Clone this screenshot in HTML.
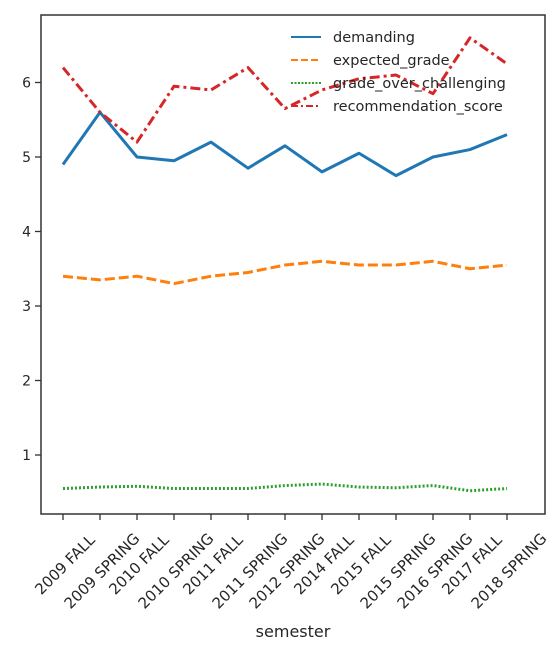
<!DOCTYPE html>
<html><head><meta charset="utf-8"><style>
body{margin:0;background:#fff;font-family:"Liberation Sans","DejaVu Sans",sans-serif;}
text{font-family:"DejaVu Sans","Liberation Sans",sans-serif;fill:#262626;}
</style></head><body>
<svg id="chart" width="558" height="650">
<g id="plot"></g>
</svg>
<script>
const categories=["2009 FALL","2009 SPRING","2010 FALL","2010 SPRING","2011 FALL","2011 SPRING","2012 SPRING","2014 FALL","2015 FALL","2015 SPRING","2016 SPRING","2017 FALL","2018 SPRING"];
const demanding=[4.9,5.6,5.0,4.95,5.2,4.85,5.15,4.8,5.05,4.75,5.0,5.1,5.3];
const expectedGrade=[3.4,3.35,3.4,3.3,3.4,3.45,3.55,3.6,3.55,3.55,3.6,3.5,3.55];
const gradeOverChallenging=[0.55,0.57,0.58,0.55,0.55,0.55,0.59,0.61,0.57,0.56,0.59,0.52,0.55];
const recommendationScore=[6.2,5.6,5.2,5.95,5.9,6.2,5.65,5.9,6.05,6.1,5.85,6.6,6.25];
const yTicks=[1,2,3,4,5,6];
const seriesNames=["demanding","expected_grade","grade_over_challenging","recommendation_score"];

const NS="http://www.w3.org/2000/svg";
const g=document.getElementById('plot');
const L=41,R=545,T=15,B=514;
const x0=63,x1=507;
function xs(i){return x0+(x1-x0)*i/(categories.length-1);}
function ys(v){return 529.5-74.5*v;}
function mk(tag,attrs,parent){const e=document.createElementNS(NS,tag);for(const k in attrs)e.setAttribute(k,attrs[k]);(parent||g).appendChild(e);return e;}

yTicks.forEach(v=>{
  const t=mk('line',{x1:L-6,x2:L,y1:ys(v),y2:ys(v),stroke:'#333','stroke-width':1.3});
  
  
  const lb=mk('text',{x:L-10,y:ys(v)+5,'text-anchor':'end','font-size':14});
  lb.textContent=v;
  
  
});
categories.forEach((c,i)=>{
  const t=mk('line',{x1:xs(i),x2:xs(i),y1:B,y2:B+6,stroke:'#333','stroke-width':1.3});
  
  
  const half=c.length*4.5*0.707;
  const lb=mk('text',{x:0,y:0,'text-anchor':'middle','dominant-baseline':'central','font-size':15,transform:`translate(${xs(i)+2},${B+22+half}) rotate(-45)`});
  lb.textContent=c;
  
  
});
const xt=mk('text',{x:(L+R)/2,y:637,'text-anchor':'middle','font-size':16});
xt.textContent='semester';



const styles=[
  {data:demanding,color:'#1f77b4',dash:'',ld:''},
  {data:expectedGrade,color:'#ff7f0e',dash:'10,4',ld:'7,3'},
  {data:gradeOverChallenging,color:'#2ca02c',dash:'2,2',ld:'2,1.5'},
  {data:recommendationScore,color:'#d62728',dash:'10,4,3,4',ld:'7,3,2,3'}
];
styles.forEach((s,k)=>{
  const p=mk('polyline',{points:s.data.map((v,i)=>xs(i)+','+ys(v)).join(' '),fill:'none',stroke:s.color,'stroke-width':3,'stroke-dasharray':s.dash,'stroke-linejoin':'round'});
  
  
});

const fr=mk('rect',{x:L,y:T,width:R-L,height:B-T,fill:'none',stroke:'#333','stroke-width':1.5});



styles.forEach((s,k)=>{
  const yy=37+k*23;
  const ln=mk('line',{x1:291,x2:321,y1:yy,y2:yy,stroke:s.color,'stroke-width':2,'stroke-dasharray':s.ld});
  
  
  const t=mk('text',{x:333,y:yy+5,'font-size':14.5});
  t.textContent=seriesNames[k];
  
  
});
</script>
</body></html>
